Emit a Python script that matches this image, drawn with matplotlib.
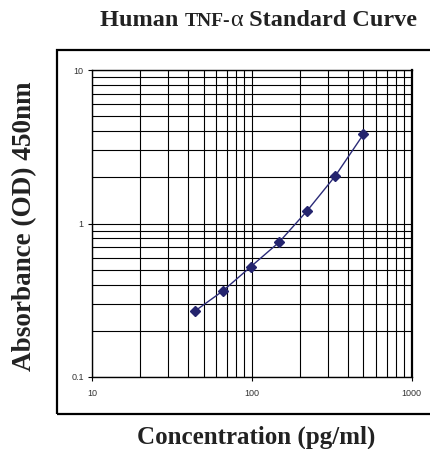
import matplotlib
matplotlib.use("Agg")
import matplotlib.pyplot as plt
from matplotlib.ticker import LogLocator, NullFormatter, FixedFormatter, FixedLocator
from matplotlib.patches import Rectangle
from matplotlib.offsetbox import TextArea, HPacker, AnchoredOffsetbox

conc = [43.9, 65.8, 98.8, 148.1, 222.2, 333.3, 500.0]
od = [0.268, 0.363, 0.524, 0.754, 1.21, 2.04, 3.81]
xticks = [10, 100, 1000]
xticklabels = ["10", "100", "1000"]
yticks = [0.1, 1, 10]
yticklabels = ["0.1", "1", "10"]

W, H = 430, 449
fig = plt.figure(figsize=(W / 100, H / 100), dpi=100)
serif = "Liberation Serif"
sans = "Liberation Sans"

# outer frame
fig.patches.append(Rectangle((57 / W, 1 - 414 / H), (434 - 57) / W, (414 - 50) / H,
                             transform=fig.transFigure, fill=False, edgecolor="black",
                             linewidth=1.6, zorder=0))

ax = fig.add_axes([92 / W, 1 - 377 / H, (411.5 - 92) / W, (377 - 70) / H])
ax.set_xscale("log")
ax.set_yscale("log")
ax.set_xlim(10, 1000)
ax.set_ylim(0.1, 10)

ax.xaxis.set_major_locator(FixedLocator(xticks))
ax.xaxis.set_major_formatter(FixedFormatter(xticklabels))
ax.yaxis.set_major_locator(FixedLocator(yticks))
ax.yaxis.set_major_formatter(FixedFormatter(yticklabels))
ax.xaxis.set_minor_locator(LogLocator(base=10, subs=range(2, 10)))
ax.yaxis.set_minor_locator(LogLocator(base=10, subs=range(2, 10)))
ax.xaxis.set_minor_formatter(NullFormatter())
ax.yaxis.set_minor_formatter(NullFormatter())

ax.grid(True, which="both", color="black", linewidth=0.8)
ax.set_axisbelow(True)
ax.tick_params(which="minor", length=0)
ax.tick_params(which="major", length=3, width=0.8, color="black", labelsize=6.5,
               labelcolor="#333333")
ax.tick_params(axis="x", which="major", pad=6)
ax.tick_params(axis="y", which="major", pad=3)
for lab in ax.get_xticklabels() + ax.get_yticklabels():
    lab.set_fontfamily(sans)
for s in ax.spines.values():
    s.set_linewidth(1.0)
ax.spines["right"].set_linewidth(1.6)

ax.plot(conc, od, color="#2b2b78", linewidth=1.0, marker="D", markersize=5,
        markerfacecolor="#24246e", markeredgecolor="#24246e", zorder=3)

# title with mixed styling
big, small = 17.5, 14
parts = [
    TextArea("Human ", textprops=dict(fontfamily=serif, fontweight="bold", fontsize=big, color="#222222")),
    TextArea("TNF-", textprops=dict(fontfamily=serif, fontweight="bold", fontsize=small, color="#222222")),
    TextArea("\u03b1", textprops=dict(fontfamily=serif, fontweight="normal", fontsize=big, color="#222222")),
    TextArea(" Standard Curve", textprops=dict(fontfamily=serif, fontweight="bold", fontsize=big, color="#222222")),
]
box = HPacker(children=parts, align="baseline", pad=0, sep=0)
ab = AnchoredOffsetbox(loc="center", child=box, frameon=False,
                       bbox_to_anchor=(258.5 / W, 1 - 20 / H),
                       bbox_transform=fig.transFigure, pad=0, borderpad=0)
fig.add_artist(ab)

fig.text(256 / W, 1 - 444 / H, "Concentration (pg/ml)", ha="center", va="baseline",
         fontfamily=serif, fontweight="bold", fontsize=18, color="#222222")
fig.text(25 / W, 1 - 226 / H, "Absorbance (OD) 450nm", ha="center", va="center",
         rotation=90, fontfamily=serif, fontweight="bold", fontsize=19.5, color="#222222")

fig.savefig("out.png", dpi=100)
